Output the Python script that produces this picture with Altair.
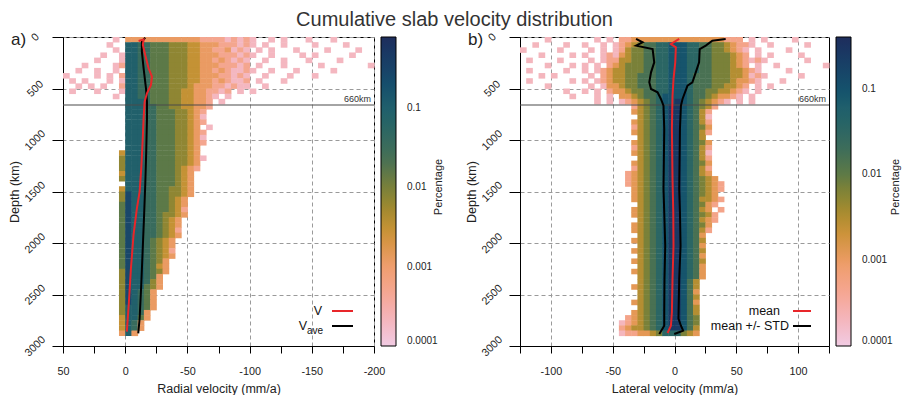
import math
import altair as alt
import pandas as pd

TITLE = "Cumulative slab velocity distribution"
FONT = "Liberation Sans"

# ---------------- heat-map cells (level codes) ----------------
# level 1..9  -> percentage
LEVEL_PCT = [0.0002, 0.0005, 0.0012, 0.003, 0.007, 0.015, 0.035, 0.09, 0.25]
DEPTH_STEP = 50          # km per row
A_VEL_START = 50         # panel a: velocity of first column edge (mm/a)
A_VEL_STEP = -5
B_VEL_START = -125       # panel b
B_VEL_STEP = 5

ROWS_A = [
    "........1." "3333333333" "3322221212" "1..1.1...1" "...1......",
    ".......1.." "8877666555" "4433322212" "1.1..1...." "1....1....",
    "........1." "8877666555" "4433223121" ".1.1...1.." "..1....1..",
    "......1..1" "8877666555" "4433322212" "1..1....1." "1.....1...",
    ".....1...1" "8877666555" "4433232121" "..1..1...1" "....1.....",
    "...1....12" "8877666555" "4433322212" ".1...1...." ".1.......1",
    "..1..1..1." "8877666555" "4433232112" "1..1...1.." "...1......",
    "1....1.1.2" "8877666555" "4433322121" "..1...1..." "1.........",
    ".1.1...1.1" "8877666555" "4433232112" ".1...1....",
    "..1.1.1..2" "8877666555" "4333221211" "..1.......",
    ".1...1...1" "8877666554" "4332212.1." "1.........",
    "........1." "8877666554" "43321.1...",
    ".........." "8887666554" "4332.1....",
    ".........." "8887766554" "4332......",
    ".........." "8887766655" "432",
    ".........." "8887766655" "431",
    ".........." "8887766655" "432",
    ".........." "8887766655" "43.1",
    ".........." "8887766655" "432",
    ".........." "8887766655" "431",
    ".........." "8887766655" "432",
    ".........." "8887766655" "43",
    ".........4" "8887766655" "43",
    ".........5" "8887766655" "431",
    ".........5" "8887766655" "43",
    ".........5" "8887766654" "32",
    ".........4" "8887766654" "3",
    ".........5" "8887766654" "3",
    ".........." "8887766654" "3",
    ".........4" "8887766554" "3",
    ".........5" "9887766554" "3",
    ".........5" "9887766543",
    ".........6" "9887766543",
    ".........6" "9887766542",
    ".........6" "9887765543",
    ".........6" "988776543",
    ".........6" "988776543",
    ".........6" "988776542",
    ".........6" "988776543",
    ".........6" "98876543",
    ".........6" "98876543",
    ".........6" "98876542",
    ".........6" "98876543",
    ".........6" "9887653",
    ".........6" "9887643",
    ".........5" "9887653",
    ".........5" "988763",
    ".........5" "988753",
    ".........5" "988653",
    ".........5" "98763",
    ".........5" "98763",
    ".........5" "98763",
    ".........5" "88763",
    ".........5" "8873",
    ".........4" "8863",
    ".........4" "873",
    ".........4" "873",
    ".........3" "83",
]

ROWS_B = [
    "....1....." "..1.1.2233" "3333333333" "333222.1.1" "....1.....",
    "..1....1.." "1..1.12345" "6677888776" "65543221.." "1.....1...",
    "1.....1..." ".1.1.12455" "6677888776" "6554321.1." "...1......",
    "...1....1." "1..1213455" "6677888776" "6555432.1." "1....1....",
    ".1....1..." ".1.1224455" "6677888776" "6555432121" "......1...",
    "....1...1." "1.1.234555" "6677888776" "6555432.1." ".1.......1",
    ".1.....1.." "1.12344555" "6677888776" "655544321." "...1......",
    "...1.1...." ".1.2344556" "6677888766" "6555443121" ".....1....",
    ".1......1." "1.12344556" "6677888766" "655543321." "..1.......",
    "....1....." ".1.1334556" "6677888766" "6554432.1." "1.........",
    ".......1.." "1.1.233455" "6677888766" "5544321.1.",
    "........1." "..1.1.3345" "6678888766" "543321.1..",
    ".........." "..1.1.1234" "5678898765" "4321.1.1..",
    ".........." "........24" "5678998765" "42",
    ".........." "........34" "5678998764" "2",
    ".........." ".........4" "5678998764" "1",
    ".........." "........34" "5678998764" "2",
    ".........." "........24" "5678998765" "3",
    ".........." "........34" "5678998764" "2",
    ".........." ".........4" "5678998764",
    ".........." "........34" "5678998765" "3",
    ".........." "........24" "5678998764" "2",
    ".........." "........34" "5678998764" "1",
    ".........." ".........4" "5678998764" "2",
    ".........." "........34" "5678998765" "3",
    ".........." "........24" "5678998764" "2",
    ".........." ".......234" "5678998764" "3",
    ".........." ".......234" "5678998765" "43",
    ".........." ".......234" "5678998765" "432",
    ".........." "........34" "5678998765" "432",
    ".........." "........34" "5678998765" "43",
    ".........." "........34" "5678998764" "432",
    ".........." ".........4" "5678998765" "32",
    ".........." "........34" "5678998764" "3.2",
    ".........." "........34" "5678998765" "42",
    ".........." ".........4" "5678998764" "32",
    ".........." "........34" "5678998765" "3",
    ".........." "........34" "5678998764" "2",
    ".........." ".........4" "5678998763",
    ".........." "........34" "5678998764",
    ".........." ".........4" "5678998763",
    ".........." "........34" "5678998764",
    ".........." ".........4" "5678998763",
    ".........." "........34" "5678998764",
    ".........." ".........4" "5678998763",
    ".........." "........34" "5678998763",
    ".........." ".........4" "5678998763",
    ".........." ".........4" "567899864",
    ".........." "........34" "567899864",
    ".........." ".........4" "567899863",
    ".........." ".........4" "567899864",
    ".........." "........34" "567899863",
    ".........." ".........4" "567899864",
    ".........." "........34" "567899864",
    ".........." ".......234" "567899865",
    ".........." "......1234" "567899865",
    ".........." "......2344" "567899864",
    ".........." "......1223" "345777543",
]

# ---------------- profile lines (depth km, velocity mm/a) ----------------
A_V_DEPTH = [39, 23, 78, 175, 304, 385, 466, 547, 628, 790, 1016, 1275, 1502, 1663, 1922, 2246, 2570, 2861]
A_V_VEL = [-10.8, -14.8, -14.2, -16.1, -18.8, -21.5, -20.7, -17.5, -15.6, -14.8, -14.0, -12.9, -11.6, -9.4, -6.7, -4.6, -3.0, -1.3]
A_VAVE_DEPTH = [6, 45, 142, 304, 498, 628, 790, 1113, 1437, 1760, 2084, 2408, 2731, 2877]
A_VAVE_VEL = [-16.1, -13.4, -13.4, -14.8, -16.7, -17.5, -17.5, -16.9, -16.1, -15.1, -14.0, -12.9, -11.6, -10.5]

B_MEAN_DEPTH = [19, 68, 100, 246, 408, 570, 893, 1379, 1702, 2026, 2350, 2673, 2803, 2874]
B_MEAN_VEL = [3.8, -2.9, 1.1, 0.6, -0.8, -1.6, -2.1, -1.6, -1.0, -0.8, -1.6, -2.1, -2.9, -5.6]
B_LOW_DEPTH = [19, 52, 84, 117, 246, 343, 440, 505, 537, 602, 667, 893, 1476, 1702, 2026, 2350, 2673, 2803, 2884]
B_LOW_VEL = [-31.1, -25.8, -31.1, -17.7, -16.4, -19.0, -20.4, -19.0, -13.7, -11.0, -8.9, -8.3, -8.9, -8.3, -7.5, -8.1, -8.3, -8.3, -12.3]
B_HIGH_DEPTH = [19, 36, 84, 117, 246, 343, 440, 472, 602, 667, 893, 1476, 1702, 2026, 2350, 2735, 2803, 2851, 2884]
B_HIGH_VEL = [41.4, 30.6, 25.3, 20.4, 19.9, 17.2, 14.5, 10.5, 6.5, 5.2, 4.4, 3.8, 4.4, 4.9, 3.8, 3.2, 5.2, 7.0, -0.2]

A_XTICKS = [50, 25, 0, -25, -50, -75, -100, -125, -150, -175, -200]
B_XTICKS = [-125, -100, -75, -50, -25, 0, 25, 50, 75, 100, 125]
Y_TICKS = [0, 500, 1000, 1500, 2000, 2500, 3000]
CB_LABELS = [0.0001, 0.001, 0.01, 0.1]
MOHO_DEPTH = [660]

# colour bar (position along bar 0..1, colour)
CB_POS = [0, 0.092, 0.179, 0.261, 0.310, 0.375, 0.440, 0.516, 0.592, 0.668, 0.772, 0.875, 1.0]
CB_COLORS = ["#F1CBE3", "#F3B4B8", "#F4A68F", "#EE9E6C", "#E1974F", "#C79236", "#A48A30",
             "#78803A", "#4E7251", "#35695F", "#205F6C", "#19476A", "#1E2D5C"]

H = 309
SEAM = 0.08   # fraction of a cell by which neighbouring cells overlap (hides anti-alias seams)


def make_cells(rows, v_start, v_step):
    recs = []
    for r, row in enumerate(rows):
        for c, ch in enumerate(row):
            if ch in "123456789":
                v0 = v_start + v_step * c
                recs.append(dict(v0=v0, v1=v0 + v_step * (1 + SEAM), d0=r * DEPTH_STEP,
                                 d1=(r + 1 + SEAM) * DEPTH_STEP, pct=LEVEL_PCT[int(ch) - 1]))
    return pd.DataFrame(recs)


def line_df(depths, vels, name):
    return pd.DataFrame({"d": depths, "v": vels, "i": list(range(len(depths))), "s": name})


def const_df():
    return pd.DataFrame({"k": [0]})


def panel(rows, v_start, v_step, xdomain, reverse, xticks, xtitle, cmax, width,
          letter, black_lines, red_line, leg):
    cells = make_cells(rows, v_start, v_step)
    lo, hi = math.log10(0.0001), math.log10(cmax)
    cdom = [10 ** (lo + f * (hi - lo)) for f in CB_POS]
    cscale = alt.Scale(type="log", domain=cdom, range=CB_COLORS)

    xaxis = alt.Axis(values=xticks, labelExpr="datum.value % 50 === 0 ? '' + datum.value : ''",
                     title=xtitle, titleX=width / 2, titleY=42, titleBaseline="middle",
                     tickSize=7, labelPadding=12, labelFlush=False, labelOverlap=False,
                     grid=True,
                     gridOpacity={"condition": {"test": "datum.value % 50 === 0", "value": 1}, "value": 0})
    yaxis = alt.Axis(values=Y_TICKS, labelExpr="'' + datum.value", labelAngle=-45,
                     labelAlign="center", labelBaseline="middle", labelPadding=17,
                     tickSize=11, labelFlush=False, labelOverlap=False,
                     title="Depth (km)", titleX=-49, titleY=H / 2, titleBaseline="middle",
                     grid=True)
    xscale = alt.Scale(domain=xdomain, reverse=reverse, nice=False, zero=False)
    yscale = alt.Scale(domain=[0, 3000], reverse=True, nice=False, zero=False)

    def X(f):
        return alt.X(f, type="quantitative", scale=xscale, axis=xaxis)

    def Y(f):
        return alt.Y(f, type="quantitative", scale=yscale, axis=yaxis)

    heat = alt.Chart(cells).mark_rect().encode(
        x=X("v0"), x2="v1", y=Y("d0"), y2="d1",
        color=alt.Color("pct:Q", scale=cscale, legend=alt.Legend(
            title=None, orient="right", offset=7, padding=0, type="gradient",
            direction="vertical", gradientLength=H, gradientThickness=15,
            gradientStrokeColor="#000", gradientStrokeWidth=1, values=CB_LABELS,
            format=".4~f", labelFont=FONT, labelFontSize=10, labelColor="#222",
            labelOffset=11, labelBaseline="middle", labelOverlap=False)),
    )

    moho_df = pd.DataFrame({"d": MOHO_DEPTH})
    moho = alt.Chart(moho_df).mark_rule(color="#4a4a4a", strokeWidth=1.2).encode(y=Y("d"))
    moho_txt = alt.Chart(moho_df).mark_text(align="right", baseline="alphabetic", dy=-2.5,
                                            fontSize=9, font=FONT, color="#333").encode(
        y=Y("d"), x=alt.value(width - 3), text=alt.value("660km"))

    layers = [heat, moho, moho_txt]
    for df in black_lines:
        layers.append(alt.Chart(df).mark_line(color="#000", strokeWidth=2).encode(
            x=X("v"), y=Y("d"), order="i:Q"))
    layers.append(alt.Chart(red_line).mark_line(color="#E8262A", strokeWidth=2).encode(
        x=X("v"), y=Y("d"), order="i:Q"))

    for item in leg:
        kind = item[0]
        if kind == "rule":
            _, x1, x2, y, col = item
            layers.append(alt.Chart(const_df()).mark_rule(color=col, strokeWidth=2).encode(
                x=alt.value(x1), x2=alt.value(x2), y=alt.value(y)))
        else:
            _, txt, x, y, align, size, base = item
            layers.append(alt.Chart(const_df()).mark_text(
                align=align, baseline=base, fontSize=size, font=FONT, color="#111").encode(
                x=alt.value(x), y=alt.value(y), text=alt.value(txt)))

    layers.append(alt.Chart(const_df()).mark_text(
        align="left", baseline="alphabetic", fontSize=17, font=FONT, color="#222").encode(
        x=alt.value(-52), y=alt.value(8), text=alt.value(letter)))
    layers.append(alt.Chart(const_df()).mark_text(
        align="center", baseline="middle", angle=270, fontSize=11, font=FONT, color="#222").encode(
        x=alt.value(376), y=alt.value(150), text=alt.value("Percentage")))

    return alt.layer(*layers).properties(width=width, height=H)


panel_a = panel(
    ROWS_A, A_VEL_START, A_VEL_STEP, [-200, 50], True, A_XTICKS, "Radial velocity (mm/a)",
    0.78, 311, "a)",
    [line_df(A_VAVE_DEPTH, A_VAVE_VEL, "Vave")],
    line_df(A_V_DEPTH, A_V_VEL, "V"),
    [
        ("text", "V", 259, 274, "right", 12.5, "middle"),
        ("rule", 269, 290, 274, "#E8262A"),
        ("text", "V", 244, 289, "right", 12.5, "middle"),
        ("text", "ave", 244, 297, "left", 10, "alphabetic"),
        ("rule", 269, 290, 289, "#000"),
    ],
)

panel_b = panel(
    ROWS_B, B_VEL_START, B_VEL_STEP, [-125, 125], False, B_XTICKS, "Lateral velocity (mm/a)",
    0.40, 309, "b)",
    [line_df(B_LOW_DEPTH, B_LOW_VEL, "low"), line_df(B_HIGH_DEPTH, B_HIGH_VEL, "high")],
    line_df(B_MEAN_DEPTH, B_MEAN_VEL, "mean"),
    [
        ("text", "mean", 260, 274, "right", 12.5, "middle"),
        ("rule", 273, 291, 274, "#E8262A"),
        ("text", "mean +/- STD", 269, 289, "right", 12.5, "middle"),
        ("rule", 273, 291, 289, "#000"),
    ],
)

chart = alt.hconcat(panel_a, panel_b, spacing=19).resolve_scale(
    x="independent", y="independent", color="independent"
).resolve_legend(color="independent").properties(
    title=alt.TitleParams(TITLE, font=FONT, fontSize=20, fontWeight="normal", color="#333",
                          anchor="middle", offset=0),
    padding={"left": 7, "top": 10, "right": 0, "bottom": 0},
    background="white",
).configure_view(stroke="#000", strokeWidth=1).configure_axis(
    labelFont=FONT, titleFont=FONT, labelColor="#222", titleColor="#222",
    titleFontWeight="normal", labelFontSize=10.8, titleFontSize=12.5,
    domainColor="#000", tickColor="#000", gridColor="#9a9a9a", gridDash=[4, 3],
)

chart.save("out.html", embed_options={"renderer": "svg", "actions": False})
